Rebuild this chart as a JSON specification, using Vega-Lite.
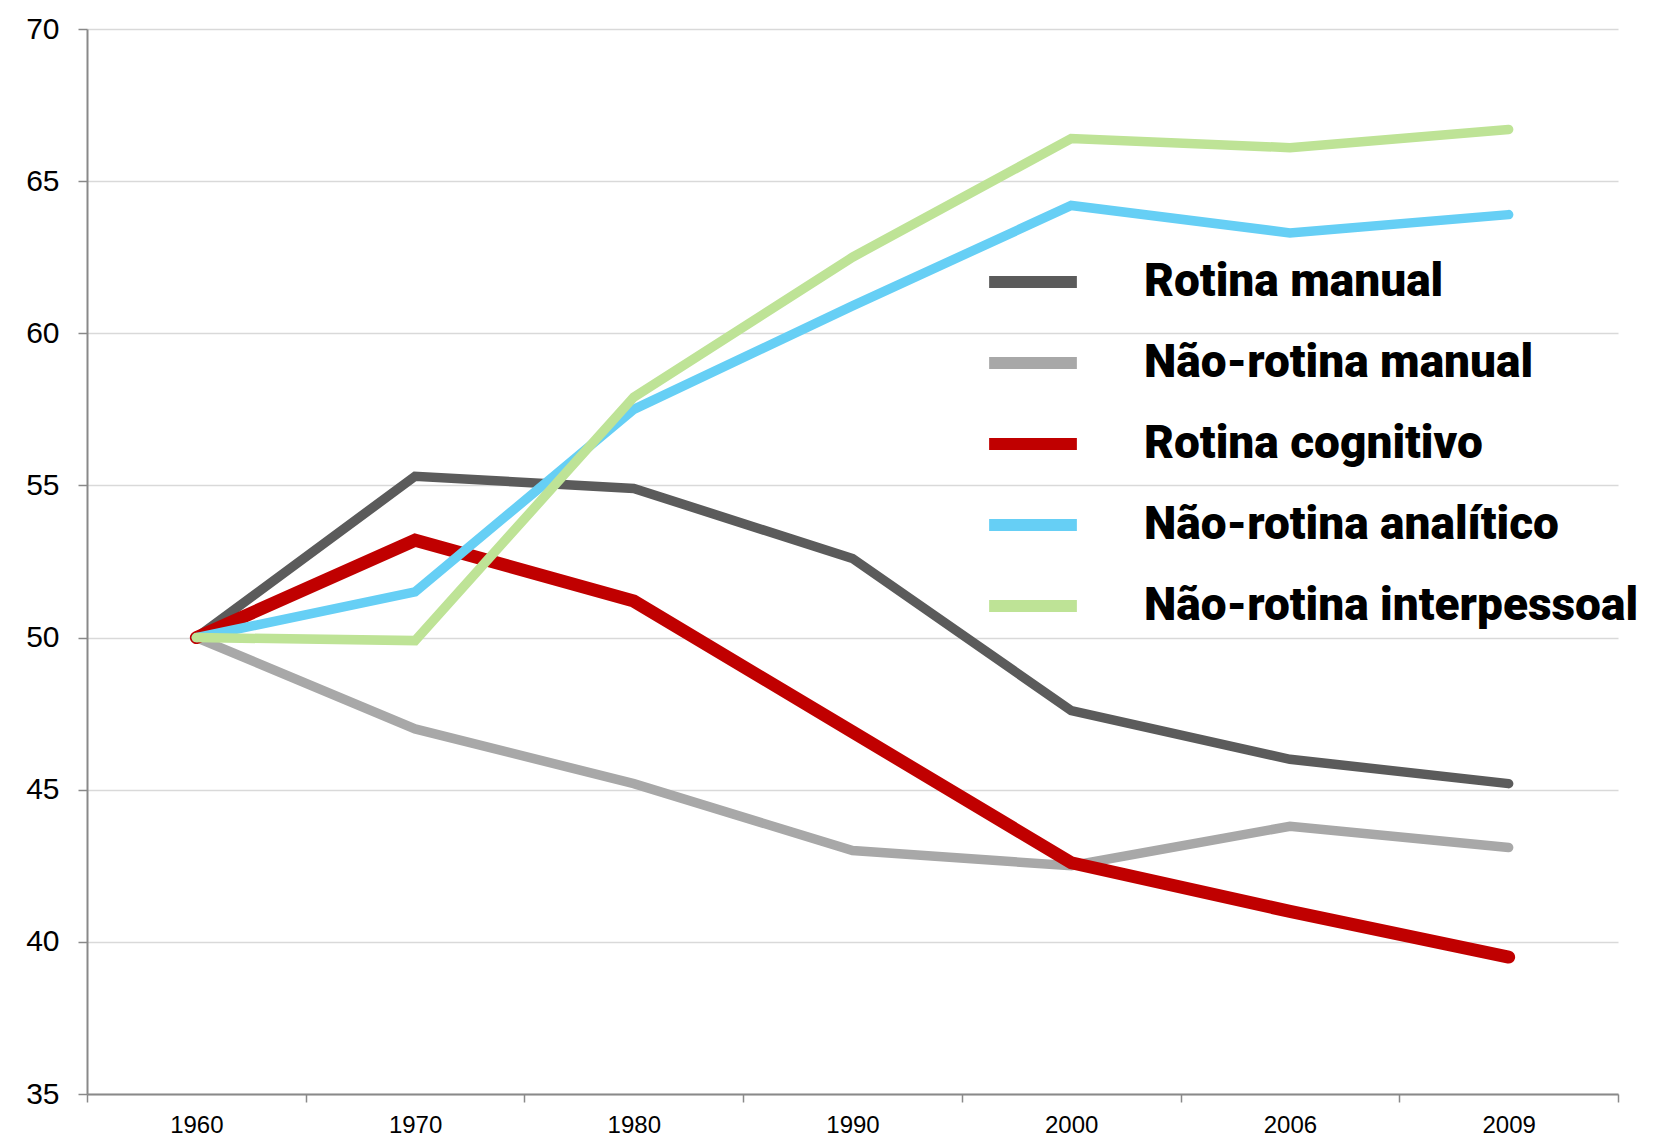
{
  "$schema": "https://vega.github.io/schema/vega-lite/v6.json",
  "width": 1531,
  "height": 1065,
  "autosize": {"type": "none"},
  "padding": {"left": 87, "top": 29, "right": 40, "bottom": 46},
  "background": "white",
  "data": {
    "values": [
      {"serie": "Rotina manual", "ano": "1960", "valor": 50.0},
      {"serie": "Rotina manual", "ano": "1970", "valor": 55.3},
      {"serie": "Rotina manual", "ano": "1980", "valor": 54.9},
      {"serie": "Rotina manual", "ano": "1990", "valor": 52.6},
      {"serie": "Rotina manual", "ano": "2000", "valor": 47.6},
      {"serie": "Rotina manual", "ano": "2006", "valor": 46.0},
      {"serie": "Rotina manual", "ano": "2009", "valor": 45.2},
      {"serie": "Não-rotina manual", "ano": "1960", "valor": 50.0},
      {"serie": "Não-rotina manual", "ano": "1970", "valor": 47.0},
      {"serie": "Não-rotina manual", "ano": "1980", "valor": 45.2},
      {"serie": "Não-rotina manual", "ano": "1990", "valor": 43.0},
      {"serie": "Não-rotina manual", "ano": "2000", "valor": 42.5},
      {"serie": "Não-rotina manual", "ano": "2006", "valor": 43.8},
      {"serie": "Não-rotina manual", "ano": "2009", "valor": 43.1},
      {"serie": "Rotina cognitivo", "ano": "1960", "valor": 50.0},
      {"serie": "Rotina cognitivo", "ano": "1970", "valor": 53.2},
      {"serie": "Rotina cognitivo", "ano": "1980", "valor": 51.2},
      {"serie": "Rotina cognitivo", "ano": "1990", "valor": 46.9},
      {"serie": "Rotina cognitivo", "ano": "2000", "valor": 42.6},
      {"serie": "Rotina cognitivo", "ano": "2006", "valor": 41.0},
      {"serie": "Rotina cognitivo", "ano": "2009", "valor": 39.5},
      {"serie": "Não-rotina analítico", "ano": "1960", "valor": 50.0},
      {"serie": "Não-rotina analítico", "ano": "1970", "valor": 51.5},
      {"serie": "Não-rotina analítico", "ano": "1980", "valor": 57.5},
      {"serie": "Não-rotina analítico", "ano": "1990", "valor": 60.9},
      {"serie": "Não-rotina analítico", "ano": "2000", "valor": 64.2},
      {"serie": "Não-rotina analítico", "ano": "2006", "valor": 63.3},
      {"serie": "Não-rotina analítico", "ano": "2009", "valor": 63.9},
      {"serie": "Não-rotina interpessoal", "ano": "1960", "valor": 50.0},
      {"serie": "Não-rotina interpessoal", "ano": "1970", "valor": 49.9},
      {"serie": "Não-rotina interpessoal", "ano": "1980", "valor": 57.9},
      {"serie": "Não-rotina interpessoal", "ano": "1990", "valor": 62.5},
      {"serie": "Não-rotina interpessoal", "ano": "2000", "valor": 66.4},
      {"serie": "Não-rotina interpessoal", "ano": "2006", "valor": 66.1},
      {"serie": "Não-rotina interpessoal", "ano": "2009", "valor": 66.7}
    ]
  },
  "mark": {"type": "line", "strokeCap": "round", "opacity": 1},
  "encoding": {
    "x": {
      "field": "ano",
      "type": "ordinal",
      "sort": null,
      "scale": {"type": "band", "paddingInner": 0, "paddingOuter": 0},
      "axis": {
        "title": null,
        "labelAngle": 0,
        "tickBand": "extent",
        "labelFont": "Liberation Sans",
        "labelFontSize": 24,
        "labelColor": "#000000",
        "labelPadding": 11,
        "tickSize": 8,
        "tickColor": "#898989",
        "tickWidth": 1.5,
        "domainColor": "#898989",
        "domainWidth": 2,
        "grid": false
      }
    },
    "y": {
      "field": "valor",
      "type": "quantitative",
      "scale": {"domain": [35, 70], "nice": false, "zero": false},
      "axis": {
        "title": null,
        "values": [35, 40, 45, 50, 55, 60, 65, 70],
        "labelFont": "Liberation Sans",
        "labelFontSize": 30,
        "labelColor": "#000000",
        "labelPadding": 19,
        "tickSize": 9,
        "tickColor": "#898989",
        "tickWidth": 1.5,
        "domainColor": "#898989",
        "domainWidth": 2,
        "grid": true,
        "gridColor": "#D9D9D9",
        "gridWidth": 1.5
      }
    },
    "color": {
      "field": "serie",
      "type": "nominal",
      "sort": null,
      "scale": {
        "domain": ["Rotina manual", "Não-rotina manual", "Rotina cognitivo", "Não-rotina analítico", "Não-rotina interpessoal"],
        "range": ["#5B5B5B", "#A8A8A8", "#C00000", "#66CFF5", "#BEE396"]
      },
      "legend": {
        "title": null,
        "orient": "none",
        "legendX": 896,
        "legendY": 203,
        "padding": 0,
        "symbolType": "stroke",
        "symbolSize": 7700,
        "symbolStrokeWidth": 12,
        "labelFont": "Roboto",
        "labelFontWeight": 900,
        "labelFontSize": 46,
        "labelColor": "#000000",
        "labelOffset": 61,
        "rowPadding": 7,
        "labelLimit": 0
      }
    },
    "strokeWidth": {
      "condition": {"test": "datum.serie === 'Rotina cognitivo'", "value": 13},
      "value": 9.5
    }
  },
  "config": {
    "view": {"stroke": null}
  }
}
